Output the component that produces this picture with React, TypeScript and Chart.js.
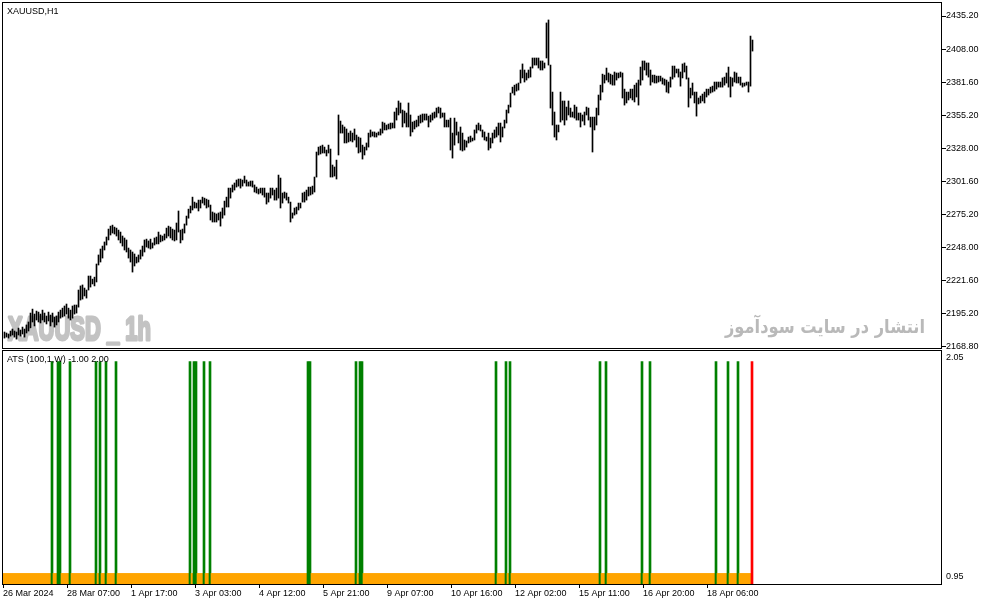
import { useEffect, useRef } from 'react';
import { Chart, registerables } from 'chart.js';

Chart.register(...registerables);

// XAUUSD H1 bars (one value per hourly bar)
const highs = [
  2180.1, 2179.3, 2178.5, 2180.9, 2182.5, 2180.9, 2180.1, 2183.3, 2181.7, 2184.1,
  2182.5, 2185.8, 2188.2, 2195.4, 2198.6, 2194.6, 2197.0, 2196.2, 2194.6, 2197.8,
  2195.4, 2193.0, 2196.2, 2193.8, 2195.4, 2192.2, 2193.0, 2196.2, 2197.8, 2199.4,
  2201.1, 2202.7, 2199.4, 2197.8, 2201.1, 2201.9, 2201.9, 2214.0, 2217.3, 2218.1,
  2215.6, 2214.0, 2225.3, 2225.3, 2222.8, 2224.4, 2235.0, 2242.3, 2247.1, 2249.5,
  2252.8, 2256.8, 2263.2, 2265.6, 2266.4, 2264.8, 2264.0, 2262.4, 2260.8, 2257.6,
  2256.0, 2254.4, 2247.9, 2246.3, 2244.7, 2243.1, 2240.6, 2242.3, 2246.3, 2249.5,
  2254.4, 2255.1, 2253.6, 2255.1, 2252.0, 2256.0, 2256.8, 2260.8, 2258.4, 2257.6,
  2259.2, 2264.0, 2265.6, 2264.8, 2263.2, 2262.4, 2268.1, 2277.8, 2262.4, 2263.2,
  2267.3, 2273.7, 2279.3, 2281.8, 2289.0, 2285.0, 2284.2, 2286.6, 2286.6, 2289.0,
  2288.2, 2287.4, 2286.6, 2282.6, 2277.0, 2276.2, 2275.4, 2276.2, 2277.0, 2280.2,
  2285.8, 2289.0, 2296.3, 2296.3, 2298.8, 2300.4, 2302.8, 2303.6, 2303.6, 2302.8,
  2306.0, 2302.8, 2301.2, 2302.0, 2302.0, 2298.8, 2297.1, 2295.5, 2296.3, 2296.3,
  2296.3, 2292.3, 2292.3, 2296.3, 2296.3, 2294.7, 2296.3, 2306.8, 2304.4, 2292.3,
  2293.1, 2292.3, 2289.0, 2285.0, 2276.2, 2280.2, 2281.0, 2284.2, 2284.2, 2292.3,
  2293.1, 2294.7, 2297.1, 2297.1, 2297.9, 2305.2, 2325.4, 2329.4, 2330.2, 2331.0,
  2329.4, 2327.0, 2331.0, 2327.8, 2314.9, 2313.3, 2318.9, 2355.3, 2350.4, 2347.2,
  2345.6, 2344.0, 2340.7, 2342.4, 2340.7, 2344.0, 2339.1, 2337.5, 2336.7, 2331.0,
  2329.4, 2332.7, 2340.7, 2343.2, 2341.6, 2341.6, 2340.7, 2341.6, 2344.0, 2349.6,
  2348.8, 2347.2, 2348.0, 2348.8, 2348.8, 2357.7, 2360.9, 2366.6, 2365.0, 2359.3,
  2358.5, 2356.9, 2365.0, 2355.3, 2349.6, 2350.4, 2351.2, 2354.4, 2355.3, 2356.1,
  2356.1, 2356.1, 2354.4, 2355.3, 2356.9, 2357.7, 2360.9, 2361.7, 2360.9, 2356.9,
  2356.9, 2351.2, 2351.2, 2352.8, 2340.7, 2352.8, 2349.6, 2341.6, 2345.6, 2340.7,
  2335.1, 2334.3, 2337.5, 2338.3, 2336.7, 2343.2, 2347.2, 2348.8, 2347.2, 2343.2,
  2341.6, 2337.5, 2340.7, 2336.7, 2340.7, 2343.2, 2345.6, 2348.8, 2348.8, 2345.6,
  2351.2, 2359.3, 2363.3, 2373.0, 2377.8, 2379.4, 2380.3, 2381.1, 2391.6, 2396.5,
  2391.6, 2389.2, 2391.6, 2394.0, 2401.3, 2401.3, 2401.3, 2401.3, 2398.9, 2398.9,
  2397.3, 2429.6, 2432.0, 2395.6, 2373.8, 2357.7, 2347.2, 2347.2, 2373.8, 2366.6,
  2366.6, 2361.7, 2366.6, 2360.9, 2357.7, 2363.3, 2361.7, 2356.9, 2356.9, 2355.3,
  2357.7, 2361.7, 2360.9, 2353.6, 2353.6, 2353.6, 2360.9, 2371.4, 2379.4, 2388.3,
  2387.5, 2393.2, 2389.2, 2388.3, 2387.5, 2390.0, 2389.2, 2389.2, 2390.0, 2389.2,
  2376.2, 2373.8, 2373.8, 2376.2, 2376.2, 2379.4, 2381.1, 2383.5, 2394.0, 2398.9,
  2398.9, 2397.3, 2397.3, 2391.6, 2387.5, 2387.5, 2386.7, 2386.7, 2386.7, 2385.2,
  2384.3, 2383.5, 2381.9, 2385.9, 2394.8, 2394.8, 2392.4, 2392.4, 2390.0, 2396.5,
  2397.3, 2394.8, 2385.2, 2377.0, 2381.1, 2373.8, 2373.8, 2369.0, 2370.6, 2372.2,
  2373.8, 2376.2, 2376.2, 2377.8, 2378.6, 2381.9, 2381.9, 2381.9, 2381.9, 2385.2,
  2385.9, 2389.2, 2394.0, 2385.9, 2385.2, 2390.0, 2389.2, 2385.9, 2385.9, 2381.1,
  2381.1, 2381.9, 2381.9, 2419.0, 2415.8,
];

const lows = [
  2175.2, 2176.0, 2175.2, 2176.8, 2177.7, 2176.0, 2174.4, 2177.7, 2176.8, 2178.5,
  2176.0, 2179.3, 2180.9, 2183.3, 2188.2, 2185.0, 2189.8, 2188.2, 2187.4, 2189.8,
  2188.2, 2186.6, 2189.0, 2185.0, 2188.2, 2184.1, 2185.8, 2188.2, 2191.3, 2192.2,
  2193.0, 2194.6, 2191.3, 2189.8, 2191.3, 2194.6, 2195.4, 2200.2, 2205.9, 2206.7,
  2209.2, 2207.5, 2214.0, 2216.4, 2218.9, 2217.3, 2220.5, 2234.2, 2236.6, 2239.8,
  2246.3, 2250.3, 2254.4, 2258.4, 2260.0, 2259.2, 2257.6, 2254.4, 2252.0, 2249.5,
  2246.3, 2244.7, 2239.8, 2236.6, 2228.5, 2233.4, 2235.8, 2236.6, 2239.0, 2241.4,
  2244.7, 2248.7, 2247.9, 2247.1, 2247.9, 2250.3, 2251.2, 2251.2, 2252.8, 2253.6,
  2254.4, 2256.0, 2257.6, 2256.0, 2254.4, 2253.6, 2254.4, 2260.8, 2252.0, 2254.4,
  2260.0, 2266.4, 2272.0, 2276.2, 2278.6, 2280.2, 2280.2, 2277.8, 2280.2, 2284.2,
  2282.6, 2280.2, 2281.0, 2270.5, 2268.9, 2268.9, 2268.9, 2270.5, 2265.6, 2272.0,
  2274.5, 2281.0, 2281.0, 2288.2, 2293.1, 2294.7, 2297.1, 2297.9, 2296.3, 2297.9,
  2300.4, 2297.9, 2297.9, 2297.9, 2297.1, 2293.1, 2292.3, 2291.5, 2292.3, 2290.7,
  2289.0, 2283.4, 2285.0, 2288.2, 2290.7, 2286.6, 2286.6, 2288.2, 2280.2, 2284.2,
  2288.2, 2286.6, 2284.2, 2268.9, 2272.0, 2274.5, 2275.4, 2278.6, 2280.2, 2285.0,
  2285.0, 2286.6, 2289.9, 2290.7, 2291.5, 2293.1, 2305.2, 2323.0, 2323.8, 2324.6,
  2324.6, 2322.2, 2324.6, 2305.2, 2305.2, 2306.0, 2303.6, 2323.0, 2340.7, 2340.7,
  2332.7, 2332.7, 2333.5, 2334.3, 2333.5, 2335.1, 2329.4, 2324.6, 2325.4, 2319.7,
  2323.0, 2327.0, 2329.4, 2337.5, 2338.3, 2337.5, 2337.5, 2339.1, 2339.1, 2340.7,
  2343.2, 2343.2, 2344.0, 2344.0, 2344.8, 2344.8, 2351.2, 2355.3, 2356.9, 2345.6,
  2348.8, 2345.6, 2345.6, 2338.3, 2341.6, 2344.0, 2345.6, 2346.4, 2348.8, 2349.6,
  2351.2, 2351.2, 2345.6, 2349.6, 2351.2, 2352.8, 2353.6, 2356.9, 2352.8, 2353.6,
  2345.6, 2345.6, 2345.6, 2327.0, 2320.5, 2331.0, 2339.1, 2332.7, 2327.0, 2326.2,
  2327.0, 2329.4, 2332.7, 2333.5, 2334.3, 2335.1, 2340.7, 2343.2, 2342.4, 2337.5,
  2335.1, 2334.3, 2327.0, 2328.6, 2332.7, 2336.7, 2337.5, 2339.1, 2333.5, 2337.5,
  2344.8, 2348.8, 2356.9, 2361.7, 2373.0, 2371.4, 2374.6, 2375.4, 2381.1, 2385.2,
  2381.9, 2383.5, 2385.2, 2385.9, 2393.2, 2395.6, 2395.6, 2393.2, 2391.6, 2391.6,
  2393.2, 2401.3, 2395.6, 2360.9, 2347.2, 2337.5, 2335.1, 2341.6, 2349.6, 2351.2,
  2347.2, 2351.2, 2355.3, 2353.6, 2353.6, 2352.8, 2351.2, 2351.2, 2345.6, 2350.4,
  2347.2, 2355.3, 2351.2, 2345.6, 2325.4, 2343.2, 2347.2, 2355.3, 2367.4, 2373.8,
  2381.1, 2383.5, 2381.9, 2380.3, 2379.4, 2379.4, 2383.5, 2385.2, 2385.9, 2369.0,
  2363.3, 2365.0, 2367.4, 2369.0, 2367.4, 2365.8, 2369.8, 2363.3, 2379.4, 2383.5,
  2391.6, 2387.5, 2385.9, 2379.4, 2381.9, 2381.1, 2381.1, 2381.9, 2382.7, 2380.3,
  2379.4, 2373.8, 2373.0, 2377.8, 2384.3, 2385.9, 2389.2, 2385.9, 2378.6, 2385.2,
  2390.0, 2384.3, 2361.7, 2369.0, 2371.4, 2365.0, 2354.4, 2364.2, 2365.0, 2366.6,
  2365.0, 2369.8, 2371.4, 2373.0, 2373.8, 2374.6, 2376.2, 2377.8, 2377.8, 2377.8,
  2379.4, 2381.1, 2377.8, 2369.8, 2378.6, 2381.9, 2381.1, 2381.1, 2379.4, 2377.8,
  2378.6, 2379.4, 2373.8, 2378.6, 2406.9,
];

const priceTicks = [2168.8, 2195.2, 2221.6, 2248.0, 2275.2, 2301.6, 2328.0, 2355.2, 2381.6, 2408.0, 2435.2];
const priceMin = 2167.2;
const priceMax = 2445.7;

// bar slots across the window (including the empty space on the right)
const slotCount = 469;

const timeBars = [0, 32, 64, 96, 128, 160, 192, 224, 256, 288, 320, 352];
const timeLabels = [
  '26 Mar 2024', '28 Mar 07:00', '1 Apr 17:00', '3 Apr 03:00', '4 Apr 12:00', '5 Apr 21:00',
  '9 Apr 07:00', '10 Apr 16:00', '12 Apr 02:00', '15 Apr 11:00', '16 Apr 20:00', '18 Apr 06:00',
];

// ATS histogram: bars where the signal is 2 (green), the rest sit at 1 (orange)
const signalBars = [24, 27, 28, 33, 46, 48, 51, 56, 93, 95, 96, 100, 103, 152, 153, 176, 178, 179, 246, 251, 253, 298, 301, 319, 323, 356, 362, 367];
const atsMin = 0.95;
const atsMax = 2.05;

const uiFont = '"Liberation Sans", Arial, sans-serif';

function drawFrame(chart: any) {
  const { ctx, chartArea } = chart;
  ctx.save();
  ctx.strokeStyle = '#000';
  ctx.lineWidth = 1;
  ctx.strokeRect(
    chartArea.left - 0.5,
    chartArea.top - 0.5,
    chartArea.right - chartArea.left + 1,
    chartArea.bottom - chartArea.top + 1
  );
  ctx.restore();
}

const mainDecor = {
  id: 'mainDecor',
  beforeDatasetsDraw(chart: any) {
    const { ctx } = chart;
    // symbol watermark, heavy condensed grey
    ctx.save();
    ctx.fillStyle = '#c3c3c3';
    ctx.strokeStyle = '#c3c3c3';
    ctx.lineWidth = 3;
    ctx.lineJoin = 'round';
    ctx.font = `bold 34px ${uiFont}`;
    ctx.textBaseline = 'alphabetic';
    const wm = 'XAUUSD _ 1h';
    const sx = 143 / ctx.measureText(wm).width;
    ctx.translate(8, 340);
    ctx.scale(sx, 1);
    ctx.fillText(wm, 0, 0);
    ctx.strokeText(wm, 0, 0);
    ctx.restore();

    ctx.save();
    ctx.fillStyle = '#b9b9b9';
    ctx.font = 'bold 19px "DejaVu Sans", sans-serif';
    ctx.textBaseline = 'alphabetic';
    ctx.textAlign = 'right';
    const fa = 'انتشار در سایت سودآموز';
    const fx = 200 / ctx.measureText(fa).width;
    ctx.translate(925, 333);
    ctx.scale(fx, 1);
    ctx.fillText(fa, 0, 0);
    ctx.restore();
  },
  afterDraw(chart: any) {
    drawFrame(chart);
    const { ctx } = chart;
    ctx.save();
    ctx.fillStyle = '#000';
    ctx.font = `9px ${uiFont}`;
    ctx.textBaseline = 'middle';
    ctx.fillText('XAUUSD,H1', 7, 11.5);
    ctx.restore();
  },
};

const subDecor = {
  id: 'subDecor',
  afterDraw(chart: any) {
    drawFrame(chart);
    const { ctx, chartArea } = chart;
    ctx.save();
    ctx.fillStyle = '#000';
    ctx.font = `9px ${uiFont}`;
    ctx.textBaseline = 'middle';
    ctx.fillText('ATS (100,1,W) -1.00 2.00', 7, 10);
    ctx.fillText(atsMax.toFixed(2), chartArea.right + 5, chartArea.top + 6.5);
    ctx.fillText(atsMin.toFixed(2), chartArea.right + 5, chartArea.bottom - 7);
    ctx.restore();
  },
};

export default function App() {
  const mainRef = useRef<HTMLCanvasElement>(null);
  const subRef = useRef<HTMLCanvasElement>(null);

  useEffect(() => {
    if (!mainRef.current || !subRef.current) return;

    const priceChart = new Chart(mainRef.current, {
      type: 'bar',
      data: {
        datasets: [
          {
            data: highs.map((h, i) => ({ x: i, y: [lows[i], h] })),
            backgroundColor: '#000000',
            borderWidth: 0,
            barThickness: 1,
          },
        ],
      },
      options: {
        animation: false,
        responsive: false,
        devicePixelRatio: 1,
        events: [],
        layout: { padding: { left: 3, top: 3, right: 0, bottom: 2 } },
        plugins: { legend: { display: false }, tooltip: { enabled: false } },
        scales: {
          x: { type: 'linear', display: false, offset: false, min: -0.75, max: slotCount - 0.75 },
          y: {
            position: 'right',
            min: priceMin,
            max: priceMax,
            afterBuildTicks: (s: any) => {
              s.ticks = priceTicks.map((v) => ({ value: v }));
            },
            afterFit: (s: any) => {
              s.width = 46;
              s.paddingTop = 0;
              s.paddingBottom = 0;
            },
            ticks: {
              color: '#000',
              padding: 0,
              font: { family: uiFont, size: 9 },
              callback: (v: any) => Number(v).toFixed(2),
            },
            grid: { drawOnChartArea: false, drawTicks: true, tickLength: 5, color: '#000' },
            border: { display: false },
          },
        },
      },
      plugins: [mainDecor],
    } as any);

    const atsChart = new Chart(subRef.current, {
      type: 'bar',
      data: {
        datasets: [
          {
            data: highs.map((_, i) => ({
              x: i,
              y: [atsMin, signalBars.includes(i) || i === highs.length - 1 ? 2 : 1],
            })),
            backgroundColor: highs.map((_, i) =>
              i === highs.length - 1 ? '#ff0000' : signalBars.includes(i) ? '#008000' : '#ffa500'
            ),
            borderWidth: 0,
            barPercentage: 1,
            categoryPercentage: 1,
          },
        ],
      },
      options: {
        animation: false,
        responsive: false,
        devicePixelRatio: 1,
        events: [],
        layout: { padding: { left: 3, top: 1, right: 0, bottom: 0 } },
        plugins: { legend: { display: false }, tooltip: { enabled: false } },
        scales: {
          x: {
            type: 'linear',
            offset: false,
            min: -0.5,
            max: slotCount - 0.5,
            afterBuildTicks: (s: any) => {
              s.ticks = timeBars.map((b) => ({ value: b - 0.5 }));
            },
            afterFit: (s: any) => {
              s.height = 21;
              s.paddingLeft = 0;
              s.paddingRight = 0;
            },
            ticks: {
              autoSkip: false,
              maxRotation: 0,
              align: 'start',
              padding: 0,
              color: '#000',
              font: { family: uiFont, size: 9 },
              callback: (v: any) => {
                const k = timeBars.indexOf(Math.round(Number(v) + 0.5));
                return k >= 0 ? timeLabels[k] : '';
              },
            },
            grid: { drawOnChartArea: false, drawTicks: true, tickLength: 4, color: '#000', offset: false },
            border: { display: false },
          },
          y: {
            position: 'right',
            min: atsMin,
            max: atsMax,
            afterFit: (s: any) => {
              s.width = 46;
              s.paddingTop = 0;
              s.paddingBottom = 0;
            },
            ticks: { display: false },
            grid: { display: false },
            border: { display: false },
          },
        },
      },
      plugins: [subDecor],
    } as any);

    return () => {
      priceChart.destroy();
      atsChart.destroy();
    };
  }, []);

  return (
    <div
      style={{
        position: 'absolute',
        left: 0,
        top: 0,
        width: 987,
        height: 605,
        background: '#ffffff',
        overflow: 'hidden',
      }}
    >
      <canvas ref={mainRef} width={987} height={350} style={{ position: 'absolute', left: 0, top: 0 }} />
      <canvas ref={subRef} width={987} height={255} style={{ position: 'absolute', left: 0, top: 350 }} />
    </div>
  );
}
